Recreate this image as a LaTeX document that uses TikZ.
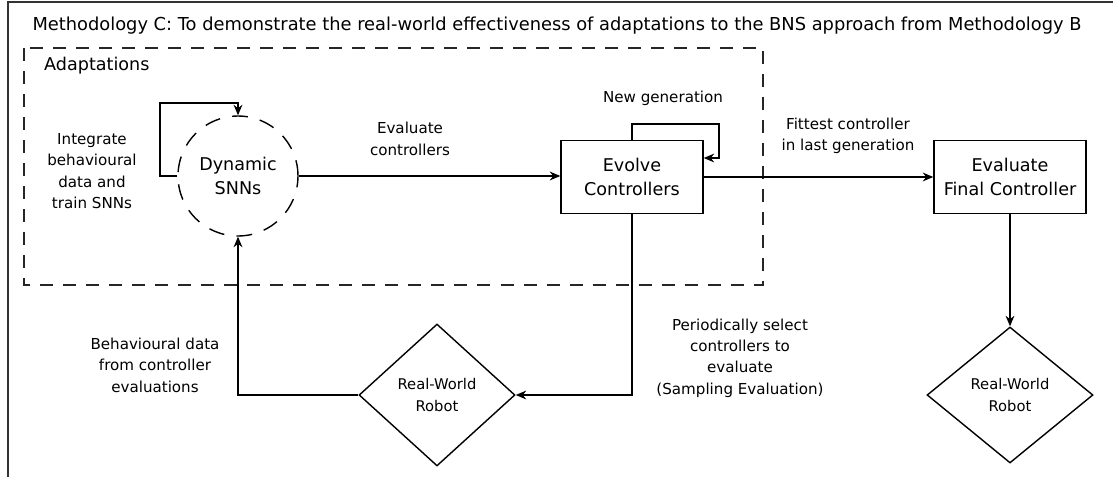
\documentclass[tikz,border=0pt]{standalone}
\usepackage{fontspec}
\setmainfont{DejaVu Sans}
\usetikzlibrary{shapes.geometric,arrows.meta}

\tikzset{
    stagebox/.style={draw,line width=0.8pt,align=center,inner sep=0pt,
        font=\fontsize{10}{13.5}\selectfont},
    snnnode/.style={circle,draw,line width=0.8pt,dash pattern=on 9pt off 7pt,
        align=center,inner sep=0pt,minimum size=2.4cm,
        font=\fontsize{10}{13.5}\selectfont},
    robotnode/.style={diamond,draw,line width=0.8pt,align=center,inner sep=0pt,
        font=\fontsize{8.4}{12}\selectfont},
    steplabel/.style={align=center,font=\fontsize{8.6}{12.2}\selectfont},
    flow/.style={line width=0.8pt,-{Stealth[length=6pt,width=5pt]}},
}

\begin{document}
\begin{tikzpicture}[x=0.02cm,y=-0.02cm]
    \useasboundingbox (0,0) rectangle (1113,477);

    %Marco exterior y titulo
    \draw[line width=1.1pt,black!80] (8,477) -- (8,2) -- (1113,2);
    \node[font=\fontsize{10.15}{12}\selectfont] (title) at (557,26)
        {Methodology C: To demonstrate the real-world effectiveness of adaptations to the BNS approach from Methodology B};

    %Caja de adaptaciones
    \draw[line width=0.8pt,black!85,dash pattern=on 7.4pt off 5.7pt] (24,48) rectangle (763,285);
    \node[anchor=west,font=\fontsize{10}{12}\selectfont] (adapt) at (38,66) {Adaptations};

    %Nodos
    \node[snnnode] (snn) at (238,176) {Dynamic\\SNNs};
    \node[stagebox,minimum width=2.84cm,minimum height=1.46cm] (evolve) at (632,177) {Evolve\\Controllers};
    \node[stagebox,minimum width=3.04cm,minimum height=1.46cm] (final) at (1010,177) {Evaluate\\Final Controller};
    \node[robotnode,minimum width=3.12cm,minimum height=2.84cm] (robotA) at (437,395) {Real-World\\Robot};
    \node[robotnode,minimum width=3.32cm,minimum height=2.72cm] (robotB) at (1010,395) {Real-World\\Robot};

    %Etiquetas
    \node[steplabel] (integrate) at (92,171) {Integrate\\behavioural\\data and\\train SNNs};
    \node[steplabel] (evallbl) at (410,139) {Evaluate\\controllers};
    \node[steplabel] (newgen) at (663,98) {New generation};
    \node[steplabel] (fittest) at (848,136) {Fittest controller\\in last generation};
    \node[steplabel] (behav) at (155,365) {Behavioural data\\from controller\\evaluations};
    \node[steplabel] (periodic) at (740,358) {Periodically select\\controllers to\\evaluate\\(Sampling Evaluation)};

    %Lineas que unen los nodos
    \coordinate (snnloop) at (160,103);
    \coordinate (genloop) at (719,124);
    \draw[flow] (snn.west) -| (snnloop) -| (snn.north);
    \draw[flow] (snn.east) -- (evolve.west |- snn.east);
    \draw[flow] (evolve.north) |- (genloop) |- ([yshift=0.38cm]evolve.east);
    \draw[flow] (evolve.east) -- (final.west);
    \draw[flow] (final.south) -- (robotB.north);
    \draw[flow] (evolve.south) |- (robotA.east);
    \draw[flow] (robotA.west) -| (snn.south);

\end{tikzpicture}
\end{document}
